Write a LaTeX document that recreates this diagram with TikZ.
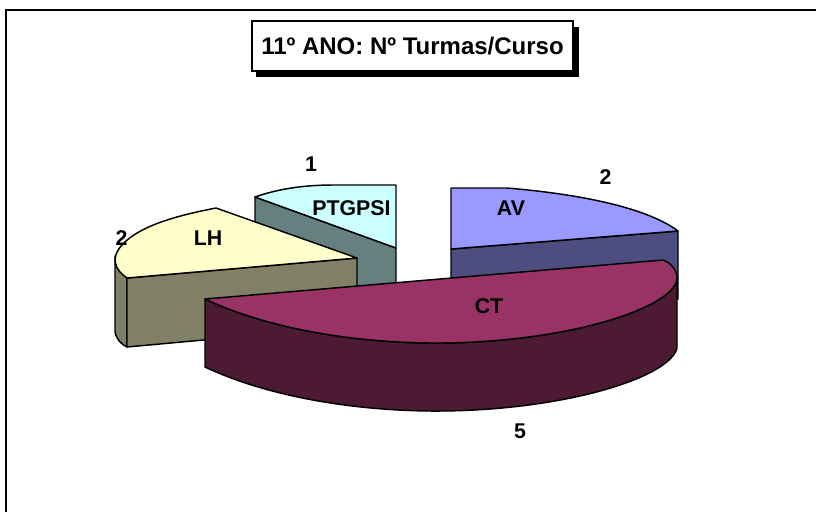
\documentclass[tikz,border=0pt]{standalone}
\usepackage{fontspec}
\setmainfont{Liberation Sans}
\definecolor{avtop}{RGB}{153,153,255}
\definecolor{avside}{RGB}{77,77,128}
\definecolor{cttop}{RGB}{153,51,102}
\definecolor{ctside}{RGB}{77,26,51}
\definecolor{lhtop}{RGB}{255,255,204}
\definecolor{lhside}{RGB}{128,128,102}
\definecolor{pttop}{RGB}{204,255,255}
\definecolor{ptside}{RGB}{102,128,128}
\begin{document}
\begin{tikzpicture}[x=0.75pt,y=-0.75pt,
  edge/.style={draw=black,line width=1.1pt,line join=round},
  lbl/.style={font=\fontsize{16}{16}\selectfont\bfseries,anchor=base,inner sep=0pt},
  titlebox/.style={draw=black,line width=0.8pt,fill=white,minimum width=321*0.75pt,minimum height=50*0.75pt,inner sep=0pt,font=\fontsize{18}{18}\selectfont\bfseries}]
\useasboundingbox (0,0) rectangle (816,511);
\fill[white] (0,0) rectangle (816,511);
% outer frame
\draw[line width=2pt] (6,520) -- (6,10) -- (830,10);
% title
\fill[black] (256,27) rectangle (579,77);
\node[titlebox] (title) at (412.5,46) {11º ANO: Nº Turmas/Curso};
% PTGPSI slice
\path[edge,fill=ptside] (255,197) -- (396,248) -- (396,316) -- (255,265) -- cycle;
\path[edge,fill=pttop] (255,197) .. controls (275,190) and (300,185) .. (333,185) -- (396,185) -- (396,248) -- cycle;
% AV slice
\path[edge,fill=avside] (451,249) -- (678,231) -- (678,299) -- (451,317) -- cycle;
\path[edge,fill=avtop] (451,249) -- (451,188) -- (507,188) .. controls (590,195) and (650,210) .. (678,231) -- cycle;
% LH slice
\path[edge,fill=lhside] (115,256) -- (115,332) .. controls (117,340) and (121,344) .. (127,347) -- (127,278) -- cycle;
\path[edge,fill=lhside] (127,278) -- (357,258) -- (357,326) -- (127,347) -- cycle;
\path[edge,fill=lhtop] (357,258) -- (216,208) .. controls (180,215) and (140,225) .. (122,245) .. controls (110,258) and (115,270) .. (127,278) -- cycle;
% CT slice
\path[edge,fill=ctside] (205,299) -- (205,367) .. controls (260,393) and (340,410) .. (430,411) .. controls (560,412) and (670,378) .. (677,348) -- (677,280) .. controls (670,310) and (560,344) .. (430,343) .. controls (340,342) and (260,325) .. (205,299) -- cycle;
\path[edge,fill=cttop] (205,299) -- (663,260) .. controls (672,263) and (678,272) .. (677,280) .. controls (670,310) and (560,344) .. (430,343) .. controls (340,342) and (260,325) .. (205,299) -- cycle;
% labels
\node[lbl] (vlh) at (121.5,245) {2};
\node[lbl] (nlh) at (208,245) {LH};
\node[lbl] (vpt) at (311,171) {1};
\node[lbl] (npt) at (351.5,215) {PTGPSI};
\node[lbl] (nav) at (511,215) {AV};
\node[lbl] (vav) at (605.5,184) {2};
\node[lbl] (nct) at (489,313) {CT};
\node[lbl] (vct) at (520,438) {5};
\end{tikzpicture}
\end{document}
